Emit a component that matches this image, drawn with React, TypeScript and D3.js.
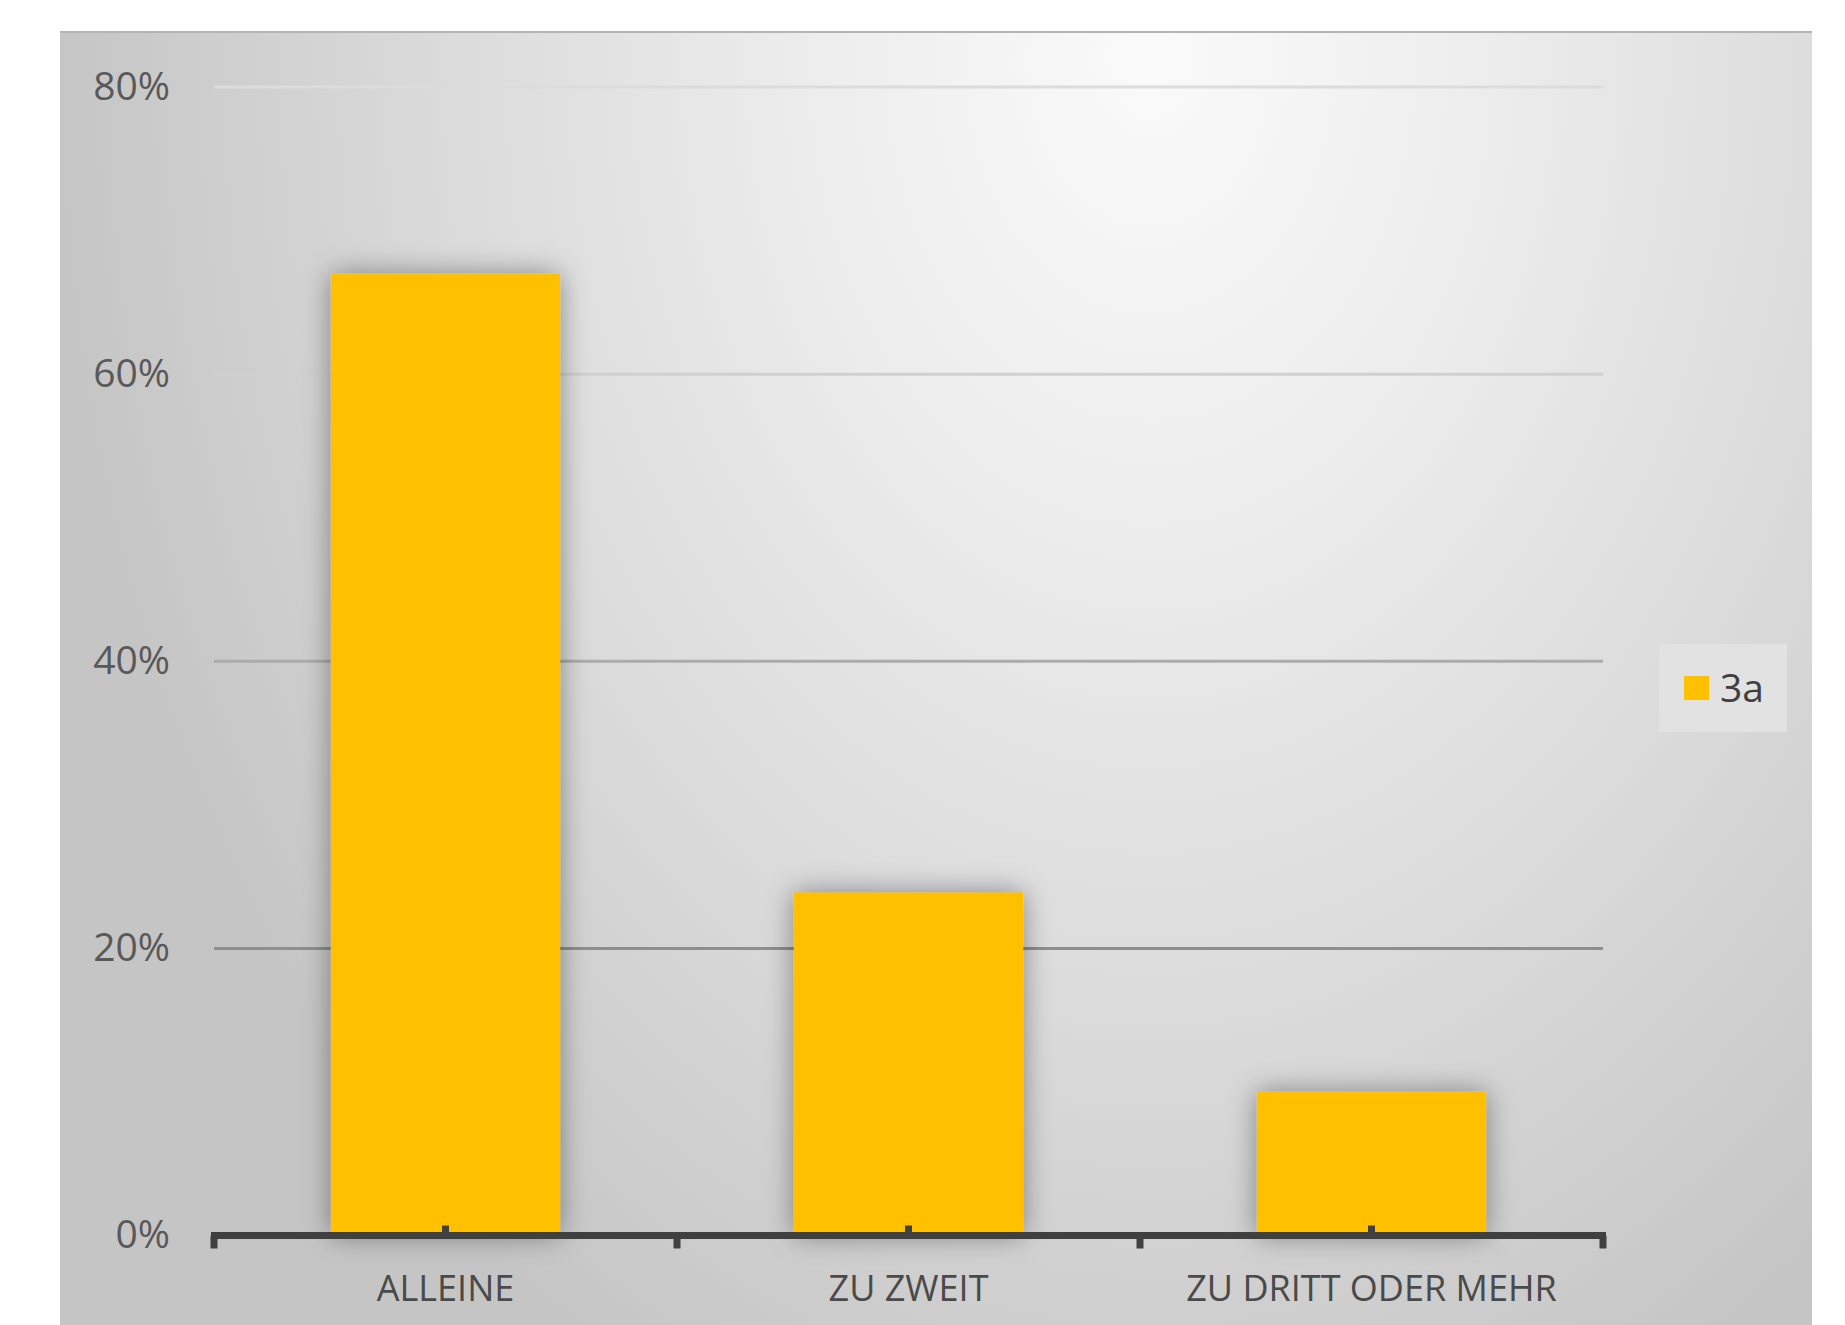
import React from "react";
import * as d3 from "d3";

const categories = ["ALLEINE", "ZU ZWEIT", "ZU DRITT ODER MEHR"];
const values = [0.67, 0.239, 0.1];
const yTicks = [0, 0.2, 0.4, 0.6, 0.8];
const seriesName = "3a";

const W = 1845;
const H = 1325;

export default function App() {
  const plot = { left: 214, right: 1603, top: 87, bottom: 1235.5 };
  const x = d3
    .scaleBand<string>()
    .domain(categories)
    .range([plot.left, plot.right])
    .paddingInner(0.505)
    .paddingOuter(0.2525);
  const y = d3.scaleLinear().domain([0, 0.8]).range([plot.bottom, plot.top]);
  const gridColor = d3
    .scaleLinear<string>()
    .domain([0.8, 0.6, 0.4, 0.2])
    .range(["#dcdcdc", "#d0d0d0", "#ababab", "#8e8e8e"]);
  const fmt = d3.format(".0%");
  const step = x.step();
  const boundaries = d3.range(categories.length + 1).map((i) => plot.left + i * step);

  return (
    <svg
      width={W}
      height={H}
      style={{ position: "absolute", left: 0, top: 0, display: "block" }}
      fontFamily="'Open Sans', sans-serif"
    >
      <defs>
        <radialGradient
          id="bg"
          gradientUnits="userSpaceOnUse"
          cx={0}
          cy={0}
          r={1}
          gradientTransform="translate(1150,60) scale(1100,1500)"
        >
          <stop offset="0" stopColor="#fafafa" />
          <stop offset="0.3" stopColor="#ededed" />
          <stop offset="0.65" stopColor="#dadada" />
          <stop offset="1" stopColor="#c5c5c5" />
        </radialGradient>
        <filter id="shadow" x="-30%" y="-30%" width="160%" height="160%">
          <feDropShadow dx="0" dy="0" stdDeviation="14" floodColor="#000" floodOpacity="0.4" />
        </filter>
      </defs>
      <rect x={60} y={31} width={1752} height={H - 31} fill="url(#bg)" />
      <line x1={60} x2={1812} y1={32} y2={32} stroke="#b4b4b4" strokeWidth={2} />

      {yTicks
        .filter((t) => t > 0)
        .map((t) => (
          <line
            key={t}
            x1={plot.left}
            x2={plot.right}
            y1={y(t)}
            y2={y(t)}
            stroke={gridColor(t)}
            strokeWidth={3}
          />
        ))}

      {yTicks.map((t) => (
        <text
          key={t}
          x={170}
          y={y(t) - 3}
          textAnchor="end"
          dominantBaseline="central"
          fontSize={39}
          fill="#595959"
        >
          {fmt(t)}
        </text>
      ))}

      {categories.map((c, i) => (
        <rect
          key={c}
          x={x(c)}
          y={y(values[i])}
          width={x.bandwidth()}
          height={y(0) - y(values[i])}
          fill="#FFC000"
          filter="url(#shadow)"
        />
      ))}

      <line
        x1={plot.left - 3}
        x2={plot.right + 3}
        y1={plot.bottom}
        y2={plot.bottom}
        stroke="#404040"
        strokeWidth={7}
      />
      {boundaries.map((bx, i) => (
        <line
          key={"b" + i}
          x1={bx}
          x2={bx}
          y1={plot.bottom}
          y2={plot.bottom + 13}
          stroke="#404040"
          strokeWidth={7}
        />
      ))}
      {categories.map((c) => {
        const cx = (x(c) as number) + x.bandwidth() / 2;
        return (
          <line
            key={"c" + c}
            x1={cx}
            x2={cx}
            y1={plot.bottom}
            y2={plot.bottom - 10}
            stroke="#404040"
            strokeWidth={7}
          />
        );
      })}

      {categories.map((c) => (
        <text
          key={"l" + c}
          x={(x(c) as number) + x.bandwidth() / 2}
          y={1287}
          textAnchor="middle"
          dominantBaseline="central"
          fontSize={36}
          fill="#4a4a4a"
        >
          {c}
        </text>
      ))}

      <g>
        <rect x={1659} y={644} width={128} height={88} fill="#e2e2e2" />
        <rect x={1684} y={676} width={25} height={24} fill="#FFC000" />
        <text x={1720} y={686} dominantBaseline="central" fontSize={39} fill="#404040">
          {seriesName}
        </text>
      </g>
    </svg>
  );
}
